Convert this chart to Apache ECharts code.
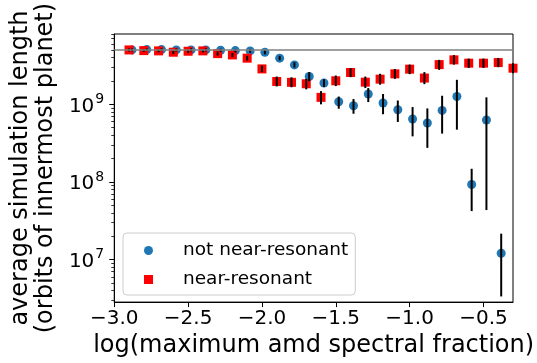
<!DOCTYPE html>
<html>
<head>
<meta charset="utf-8">
<script src="https://cdn.jsdelivr.net/npm/echarts@6/dist/echarts.min.js"></script>
<style>
  html, body { margin: 0; padding: 0; background: #fff; }
  #chart { width: 537px; height: 363px; }
</style>
</head>
<body>
<div id="chart"></div>
<script>
// x positions (log of max amd spectral fraction)
var xBlue = [-2.88, -2.78, -2.68, -2.58, -2.48, -2.38, -2.28, -2.18, -2.08, -1.98, -1.88, -1.78, -1.68,
             -1.58, -1.48, -1.38, -1.28, -1.18, -1.08, -0.98, -0.88, -0.78, -0.68, -0.58, -0.48, -0.38, -0.28];
var xRed = [-2.9, -2.8, -2.7, -2.6, -2.5, -2.4, -2.3, -2.2, -2.1, -2.0, -1.9, -1.8, -1.7,
            -1.6, -1.5, -1.4, -1.3, -1.2, -1.1, -1.0, -0.9, -0.8, -0.7, -0.6, -0.5, -0.4, -0.3];

// not near-resonant: mean length and error bar ends
var blueVal = [5.02e9, 5.07e9, 5.07e9, 5.02e9, 5.02e9, 5.02e9, 4.98e9, 4.92e9, 4.88e9, 4.69e9, 3.93e9, 3.22e9, 2.28e9,
               1.88e9, 1.08e9, 9.6e8, 1.36e9, 1.04e9, 8.52e8, 6.48e8, 5.75e8, 8.35e8, 1.26e9, 9.29e7, 6.29e8, 1.21e7, 1.21e8];
var blueHi = [5.25e9, 5.25e9, 5.25e9, 5.25e9, 5.25e9, 5.25e9, 5.20e9, 5.17e9, 5.17e9, 5.02e9, 4.21e9, 3.49e9, 2.60e9,
              2.11e9, 1.26e9, 1.17e9, 1.62e9, 1.36e9, 1.12e9, 9.23e8, 8.86e8, 1.29e9, 2.07e9, 1.48e8, 1.23e9, 2.16e7, null];
var blueLo = [4.80e9, 4.88e9, 4.88e9, 4.80e9, 4.80e9, 4.80e9, 4.73e9, 4.67e9, 4.60e9, 4.40e9, 3.68e9, 2.98e9, 1.99e9,
              1.67e9, 8.78e8, 7.57e8, 1.07e9, 7.46e8, 5.93e8, 3.87e8, 2.75e8, 4.20e8, 4.72e8, 4.22e7, 4.35e7, 3.36e6, null];

// near-resonant
var redVal = [5.02e9, 4.92e9, 4.88e9, 4.69e9, 4.83e9, 4.88e9, 4.50e9, 4.33e9, 3.93e9, 2.86e9, 1.97e9, 1.92e9, 1.84e9,
              1.23e9, 2.01e9, 2.57e9, 1.93e9, 2.11e9, 2.47e9, 2.84e9, 2.18e9, 3.25e9, 3.74e9, 3.39e9, 3.39e9, 3.45e9, 2.92e9];
var redHi = [5.25e9, 5.13e9, 5.10e9, 4.95e9, 5.05e9, 5.10e9, 4.78e9, 4.60e9, 4.21e9, 3.16e9, 2.28e9, 2.23e9, 2.13e9,
             1.48e9, 2.35e9, 2.92e9, 2.28e9, 2.47e9, 2.84e9, 3.25e9, 2.60e9, 3.74e9, 4.30e9, 3.88e9, 3.88e9, 3.96e9, 3.39e9];
var redLo = [4.80e9, 4.73e9, 4.67e9, 4.46e9, 4.60e9, 4.67e9, 4.24e9, 4.08e9, 3.66e9, 2.60e9, 1.70e9, 1.66e9, 1.56e9,
             1.00e9, 1.72e9, 2.24e9, 1.62e9, 1.79e9, 2.13e9, 2.45e9, 1.82e9, 2.78e9, 3.25e9, 2.95e9, 2.95e9, 3.01e9, 2.52e9];

var refLine = 5e9;          // horizontal reference line
var yMin = 2.84e6, yMax = 8.05e9;
var xTicks = [-3.0, -2.5, -2.0, -1.5, -1.0, -0.5];
var yDecades = [7, 8, 9];

var lg = Math.log10;
var FONT = 'DejaVu Sans';

function points(xs, vs) {
    var out = [];
    for (var i = 0; i < xs.length; i++) out.push([xs[i], lg(vs[i])]);
    return out;
}
function bars(xs, lo, hi) {
    var out = [];
    for (var i = 0; i < xs.length; i++) {
        if (lo[i] == null || hi[i] == null) continue;
        out.push([xs[i], lg(lo[i]), lg(hi[i])]);
    }
    return out;
}
// minor log ticks (2..9 x 10^n)
var minorTicks = [];
for (var n = 6; n <= 9; n++) {
    for (var k = 2; k <= 9; k++) {
        var v = lg(k) + n;
        if (v > lg(yMin) && v < lg(yMax)) minorTicks.push(v);
    }
}

function errRender(params, api) {
    var p1 = api.coord([api.value(0), api.value(1)]);
    var p2 = api.coord([api.value(0), api.value(2)]);
    return {
        type: 'line',
        shape: { x1: p1[0], y1: p1[1], x2: p2[0], y2: p2[1] },
        style: { stroke: '#000', lineWidth: 2 }
    };
}

var myChart = echarts.init(document.getElementById('chart'), null, { renderer: 'canvas' });

var option = {
    animation: false,
    textStyle: { fontFamily: FONT },
    grid: {
        left: 114, right: 20, top: 34, bottom: 60,
        show: true, borderColor: '#000', borderWidth: 1
    },
    legend: {
        orient: 'vertical',
        left: 123, top: 233,
        padding: [8, 7, 6, 21],
        itemWidth: 9, itemHeight: 9, itemGap: 10,
        backgroundColor: 'rgba(255,255,255,0.8)',
        borderColor: '#cccccc', borderWidth: 1, borderRadius: 4,
        textStyle: { fontFamily: FONT, fontSize: 18.5, color: '#000', padding: [0, 0, 0, 25] },
        data: [
            { name: 'not near-resonant', icon: 'circle' },
            { name: 'near-resonant', icon: 'rect' }
        ]
    },
    xAxis: {
        type: 'value',
        min: -3.0, max: -0.3,
        name: 'log(maximum amd spectral fraction)',
        nameLocation: 'middle', nameGap: 30,
        nameTextStyle: { fontFamily: FONT, fontSize: 24, color: '#000' },
        axisLine: { lineStyle: { color: '#000', width: 1 } },
        axisTick: { customValues: xTicks, length: 5, lineStyle: { color: '#000', width: 1 } },
        axisLabel: {
            customValues: xTicks,
            margin: 7,
            fontFamily: FONT, fontSize: 20, color: '#000',
            formatter: function (v) { return v.toFixed(1).replace('-', '\u2212'); }
        },
        splitLine: { show: false }
    },
    yAxis: [{
        type: 'value',
        min: lg(yMin), max: lg(yMax),
        position: 'left',
        name: 'average simulation length\n(orbits of innermost planet)',
        nameLocation: 'middle', nameGap: 52, nameRotate: 90,
        nameTextStyle: { fontFamily: FONT, fontSize: 24, color: '#000', lineHeight: 25 },
        axisLine: { lineStyle: { color: '#000', width: 1 } },
        axisTick: { customValues: yDecades, length: 5, lineStyle: { color: '#000', width: 1 } },
        axisLabel: {
            customValues: yDecades,
            margin: 10,
            formatter: function (v) { return '{b|10}{s|' + Math.round(v) + '}'; },
            rich: {
                b: { fontFamily: FONT, fontSize: 20, color: '#000', verticalAlign: 'bottom' },
                s: { fontFamily: FONT, fontSize: 14, color: '#000', padding: [0, 0, 10, 1], verticalAlign: 'bottom' }
            }
        },
        splitLine: { show: false }
    }, {
        type: 'value',
        min: lg(yMin), max: lg(yMax),
        position: 'left', offset: 0,
        axisLine: { show: false },
        axisTick: { show: true, customValues: minorTicks, length: 3, lineStyle: { color: '#000', width: 0.8 } },
        axisLabel: { show: false },
        splitLine: { show: false }
    }],
    series: [
        {
            name: 'not near-resonant',
            type: 'scatter',
            symbol: 'circle', symbolSize: 9,
            itemStyle: { color: '#1f77b4', opacity: 1 },
            data: points(xBlue, blueVal),
            z: 2,
            markLine: {
                silent: true, symbol: 'none', label: { show: false },
                lineStyle: { color: '#808080', width: 1.5, type: 'solid' },
                data: [{ yAxis: lg(refLine) }, { yAxis: lg(yMax) }]
            }
        },
        {
            name: 'near-resonant',
            type: 'scatter',
            symbol: 'rect', symbolSize: 9,
            itemStyle: { color: '#ff0000', opacity: 1 },
            data: points(xRed, redVal),
            z: 3
        },
        {
            name: 'err-blue', type: 'custom', renderItem: errRender, clip: true,
            encode: { x: 0, y: [1, 2] }, data: bars(xBlue, blueLo, blueHi), z: 4
        },
        {
            name: 'err-red', type: 'custom', renderItem: errRender, clip: true,
            encode: { x: 0, y: [1, 2] }, data: bars(xRed, redLo, redHi), z: 4
        }
    ]
};
myChart.setOption(option);
</script>
</body>
</html>
